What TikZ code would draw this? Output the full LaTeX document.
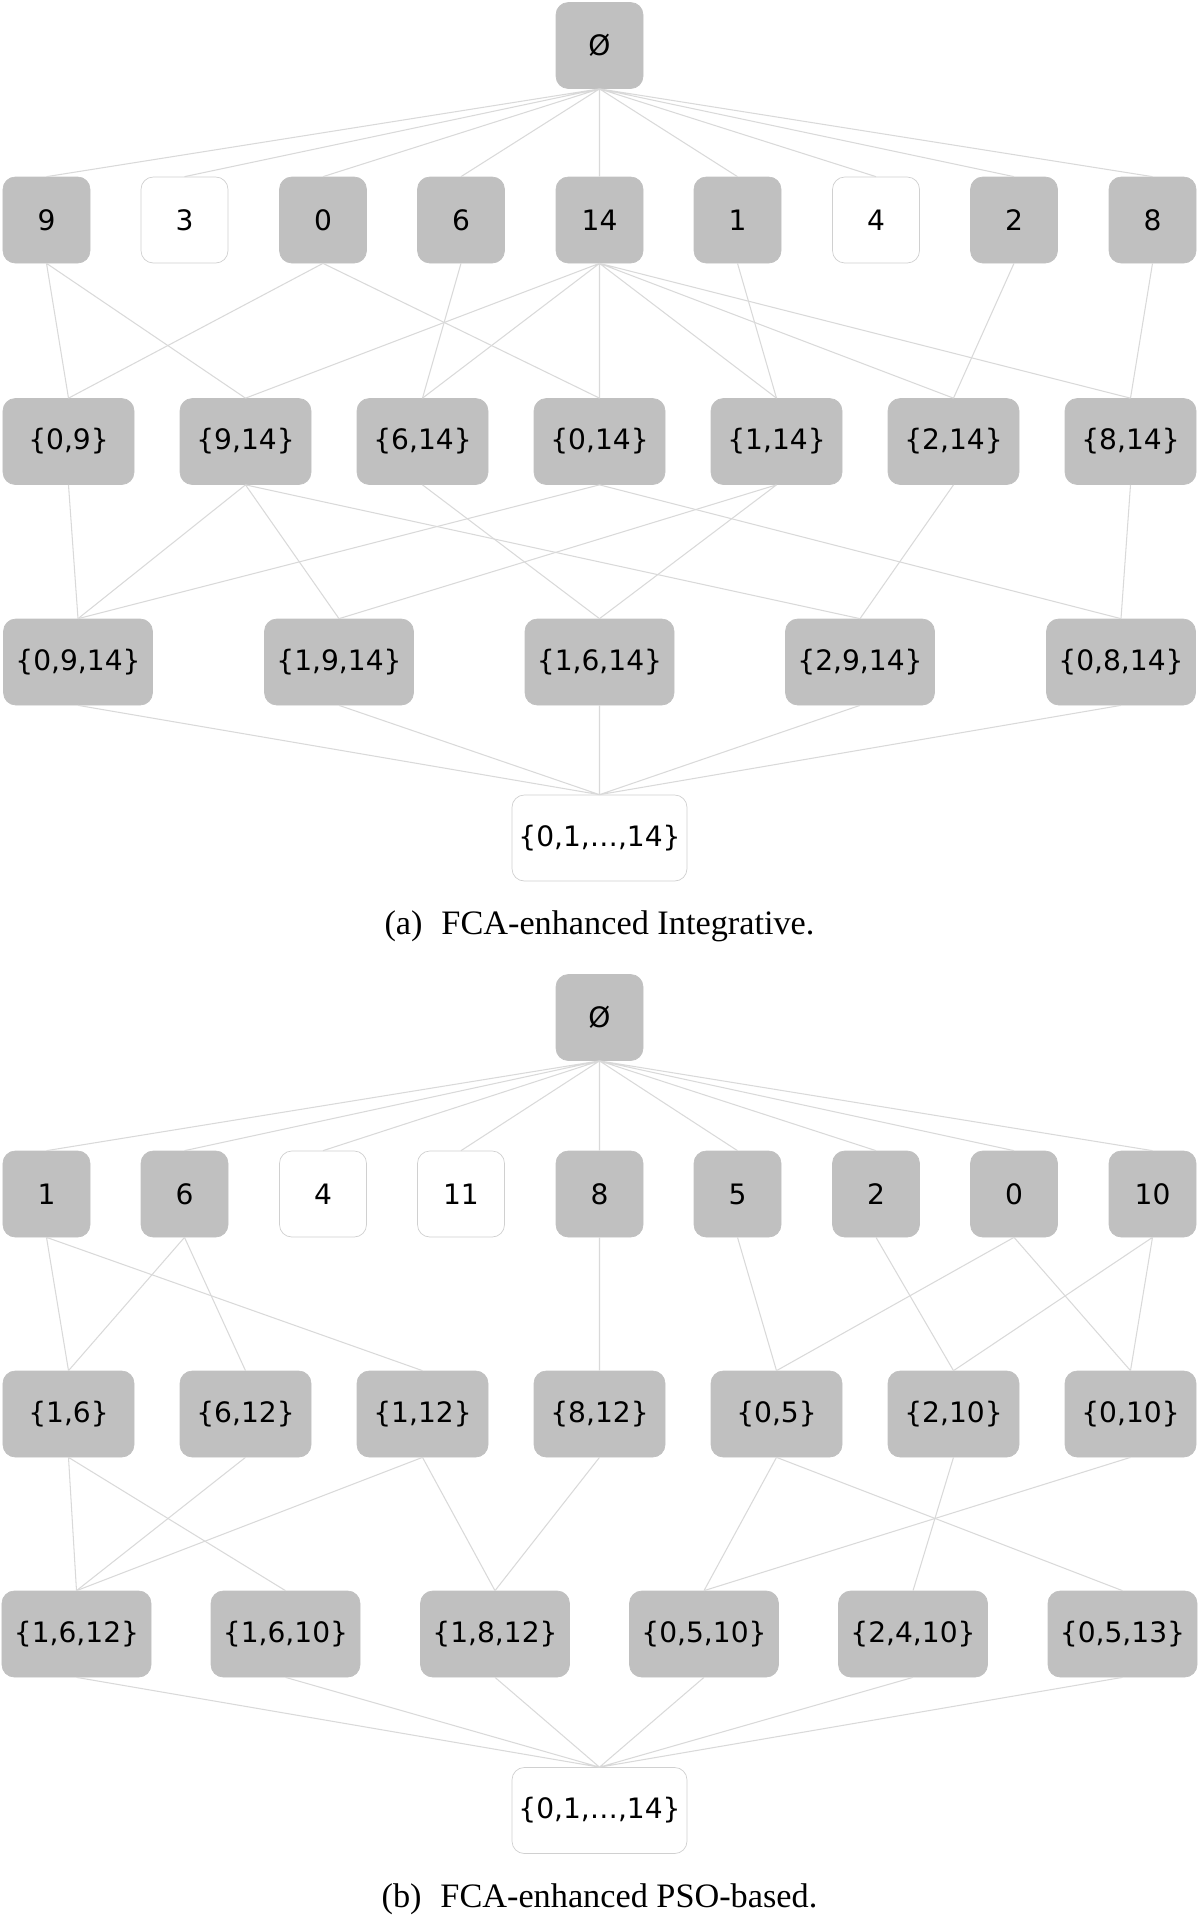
\documentclass[tikz,border=0pt]{standalone}
\usepackage{fontspec}
\setmainfont{Liberation Serif}
\newfontfamily\latfont{DejaVu Sans}
\definecolor{cfill}{HTML}{C0C0C0}
\definecolor{cedge}{HTML}{D9D9D9}
\definecolor{cborder}{HTML}{D0D0D0}
\usepackage{tikz}
\tikzset{
  concept/.style={draw=cfill, fill=cfill, rounded corners=7pt, align=center,
              minimum height=17.2mm, inner sep=2pt, font=\latfont\fontsize{16}{18}\selectfont},
  lone/.style={concept, draw=cborder, fill=white},
  link/.style={draw=cedge, line width=0.6pt},
  captxt/.style={font=\fontsize{19.5}{24}\selectfont, inner sep=0pt},
}

\begin{document}
\begin{tikzpicture}[
        w1/.style={minimum width=17.4mm},
        w2/.style={minimum width=26.2mm},
        w3/.style={minimum width=29.8mm},
        wb/.style={minimum width=35mm}]
        \useasboundingbox (0,0) rectangle (24,-38.38);
        % (a) FCA-enhanced Integrative
        \node[concept,w1] (aTop) at (11.99,-0.91) {Ø};
        \node[concept,w1] (a9) at (0.93,-4.40) {9};
        \node[lone,w1] (a3) at (3.69,-4.40) {3};
        \node[concept,w1] (a0) at (6.46,-4.40) {0};
        \node[concept,w1] (a6) at (9.22,-4.40) {6};
        \node[concept,w1] (a14) at (11.99,-4.40) {14};
        \node[concept,w1] (a1) at (14.75,-4.40) {1};
        \node[lone,w1] (a4) at (17.52,-4.40) {4};
        \node[concept,w1] (a2) at (20.28,-4.40) {2};
        \node[concept,w1] (a8) at (23.05,-4.40) {8};
        \node[concept,w2] (a09) at (1.37,-8.83) {\{0,9\}};
        \node[concept,w2] (a914) at (4.91,-8.83) {\{9,14\}};
        \node[concept,w2] (a614) at (8.45,-8.83) {\{6,14\}};
        \node[concept,w2] (a014) at (11.99,-8.83) {\{0,14\}};
        \node[concept,w2] (a114) at (15.53,-8.83) {\{1,14\}};
        \node[concept,w2] (a214) at (19.07,-8.83) {\{2,14\}};
        \node[concept,w2] (a814) at (22.61,-8.83) {\{8,14\}};
        \node[concept,w3] (a0914) at (1.56,-13.24) {\{0,9,14\}};
        \node[concept,w3] (a1914) at (6.78,-13.24) {\{1,9,14\}};
        \node[concept,w3] (a1614) at (11.99,-13.24) {\{1,6,14\}};
        \node[concept,w3] (a2914) at (17.20,-13.24) {\{2,9,14\}};
        \node[concept,w3] (a0814) at (22.42,-13.24) {\{0,8,14\}};
        \node[lone,wb] (aBot) at (11.99,-16.76) {\{0,1,…,14\}};
        \node[captxt] (aCap) at (11.99,-18.52) {(a)\hspace{0.55em}FCA-enhanced Integrative.};
        \draw[link] (aTop.south)--(a9.north) (aTop.south)--(a3.north) (aTop.south)--(a0.north)
                    (aTop.south)--(a6.north) (aTop.south)--(a14.north) (aTop.south)--(a1.north)
                    (aTop.south)--(a4.north) (aTop.south)--(a2.north) (aTop.south)--(a8.north);
        \draw[link] (a9.south)--(a09.north) (a9.south)--(a914.north);
        \draw[link] (a0.south)--(a09.north) (a0.south)--(a014.north);
        \draw[link] (a6.south)--(a614.north);
        \draw[link] (a14.south)--(a914.north) (a14.south)--(a614.north) (a14.south)--(a014.north)
                    (a14.south)--(a114.north) (a14.south)--(a214.north) (a14.south)--(a814.north);
        \draw[link] (a1.south)--(a114.north) (a2.south)--(a214.north) (a8.south)--(a814.north);
        \draw[link] (a09.south)--(a0914.north);
        \draw[link] (a914.south)--(a0914.north) (a914.south)--(a1914.north) (a914.south)--(a2914.north);
        \draw[link] (a614.south)--(a1614.north);
        \draw[link] (a014.south)--(a0914.north) (a014.south)--(a0814.north);
        \draw[link] (a114.south)--(a1914.north) (a114.south)--(a1614.north);
        \draw[link] (a214.south)--(a2914.north) (a814.south)--(a0814.north);
        \draw[link] (a0914.south)--(aBot.north) (a1914.south)--(aBot.north) (a1614.south)--(aBot.north)
                    (a2914.south)--(aBot.north) (a0814.south)--(aBot.north);
        % (b) FCA-enhanced PSO-based
        \node[concept,w1] (bTop) at (11.99,-20.35) {Ø};
        \node[concept,w1] (b1) at (0.93,-23.88) {1};
        \node[concept,w1] (b6) at (3.69,-23.88) {6};
        \node[lone,w1] (b4) at (6.46,-23.88) {4};
        \node[lone,w1] (b11) at (9.22,-23.88) {11};
        \node[concept,w1] (b8) at (11.99,-23.88) {8};
        \node[concept,w1] (b5) at (14.75,-23.88) {5};
        \node[concept,w1] (b2) at (17.52,-23.88) {2};
        \node[concept,w1] (b0) at (20.28,-23.88) {0};
        \node[concept,w1] (b10) at (23.05,-23.88) {10};
        \node[concept,w2] (b16) at (1.37,-28.28) {\{1,6\}};
        \node[concept,w2] (b612) at (4.91,-28.28) {\{6,12\}};
        \node[concept,w2] (b112) at (8.45,-28.28) {\{1,12\}};
        \node[concept,w2] (b812) at (11.99,-28.28) {\{8,12\}};
        \node[concept,w2] (b05) at (15.53,-28.28) {\{0,5\}};
        \node[concept,w2] (b210) at (19.07,-28.28) {\{2,10\}};
        \node[concept,w2] (b010) at (22.61,-28.28) {\{0,10\}};
        \node[concept,w3] (b1612) at (1.53,-32.68) {\{1,6,12\}};
        \node[concept,w3] (b1610) at (5.71,-32.68) {\{1,6,10\}};
        \node[concept,w3] (b1812) at (9.90,-32.68) {\{1,8,12\}};
        \node[concept,w3] (b0510) at (14.08,-32.68) {\{0,5,10\}};
        \node[concept,w3] (b2410) at (18.26,-32.68) {\{2,4,10\}};
        \node[concept,w3] (b0513) at (22.45,-32.68) {\{0,5,13\}};
        \node[lone,wb] (bBot) at (11.99,-36.21) {\{0,1,…,14\}};
        \node[captxt] (bCap) at (11.99,-37.99) {(b)\hspace{0.55em}FCA-enhanced PSO-based.};
        \draw[link] (bTop.south)--(b1.north) (bTop.south)--(b6.north) (bTop.south)--(b4.north)
                    (bTop.south)--(b11.north) (bTop.south)--(b8.north) (bTop.south)--(b5.north)
                    (bTop.south)--(b2.north) (bTop.south)--(b0.north) (bTop.south)--(b10.north);
        \draw[link] (b1.south)--(b16.north) (b1.south)--(b112.north);
        \draw[link] (b6.south)--(b16.north) (b6.south)--(b612.north);
        \draw[link] (b8.south)--(b812.north) (b5.south)--(b05.north) (b2.south)--(b210.north);
        \draw[link] (b0.south)--(b05.north) (b0.south)--(b010.north);
        \draw[link] (b10.south)--(b210.north) (b10.south)--(b010.north);
        \draw[link] (b16.south)--(b1612.north) (b16.south)--(b1610.north);
        \draw[link] (b612.south)--(b1612.north);
        \draw[link] (b112.south)--(b1612.north) (b112.south)--(b1812.north);
        \draw[link] (b812.south)--(b1812.north);
        \draw[link] (b05.south)--(b0510.north) (b05.south)--(b0513.north);
        \draw[link] (b210.south)--(b2410.north) (b010.south)--(b0510.north);
        \draw[link] (b1612.south)--(bBot.north) (b1610.south)--(bBot.north) (b1812.south)--(bBot.north)
                    (b0510.south)--(bBot.north) (b2410.south)--(bBot.north) (b0513.south)--(bBot.north);
      \end{tikzpicture}
\end{document}
